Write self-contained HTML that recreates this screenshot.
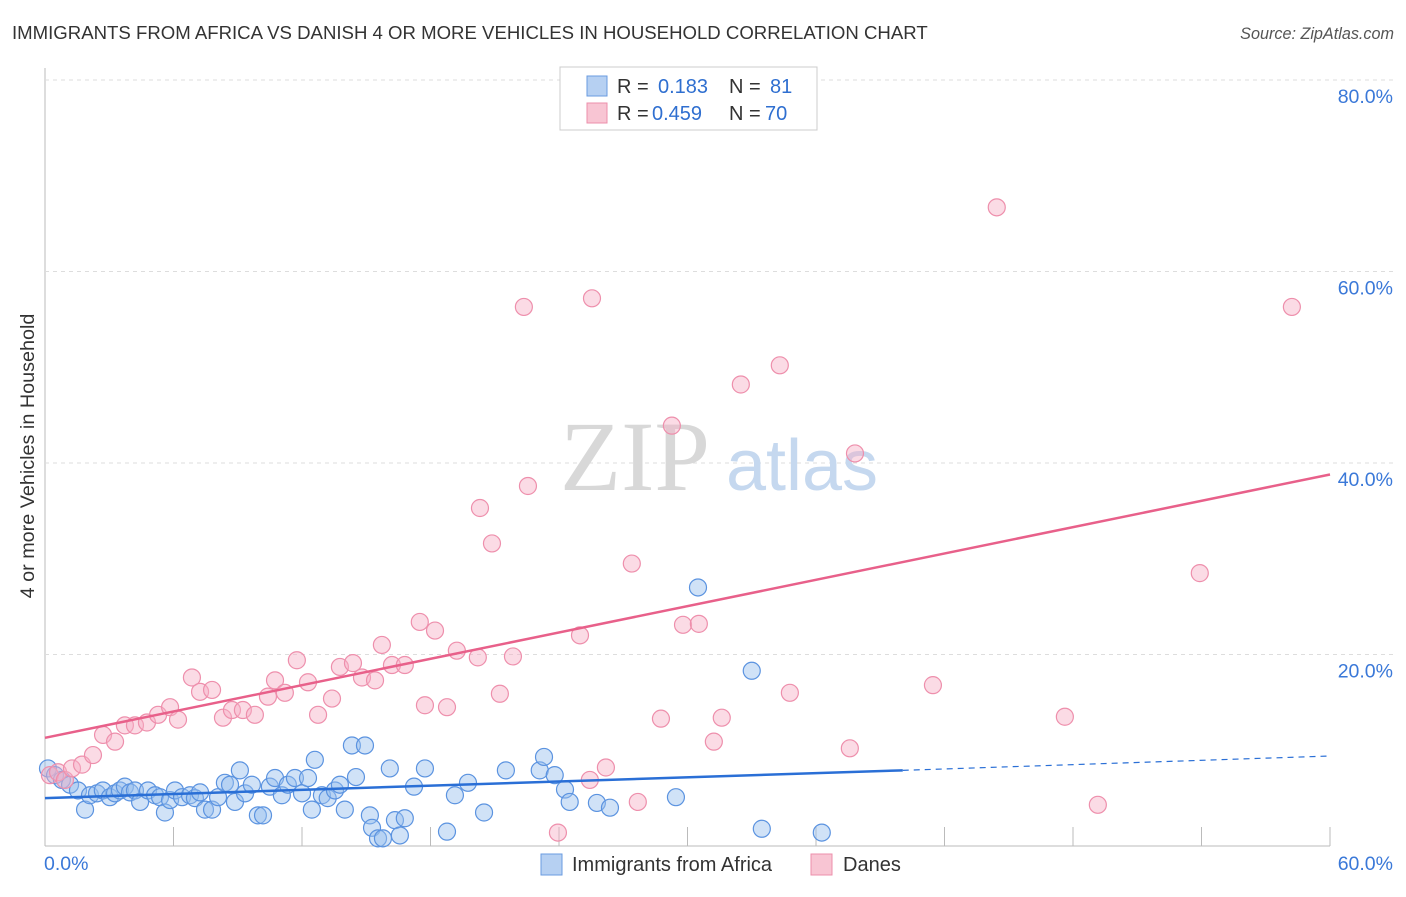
<!DOCTYPE html>
<html><head><meta charset="utf-8"><style>
body{margin:0;background:#fff;font-family:"Liberation Sans",sans-serif;}
</style></head><body>
<svg width="1406" height="892" xmlns="http://www.w3.org/2000/svg">
<text x="12" y="39" font-size="18.6" fill="#333">IMMIGRANTS FROM AFRICA VS DANISH 4 OR MORE VEHICLES IN HOUSEHOLD CORRELATION CHART</text>
<text x="1394" y="39" font-size="16.2" fill="#555" font-style="italic" text-anchor="end">Source: ZipAtlas.com</text>
<g id="grid"></g>
<text x="635" y="490" font-size="100" fill="#d8d8d8" font-family="Liberation Serif,serif" text-anchor="middle">ZIP</text>
<text x="802" y="490" font-size="72" fill="#c5d8ef" text-anchor="middle">atlas</text>
<text transform="translate(34,456) rotate(-90)" font-size="19.8" fill="#333" text-anchor="middle">4 or more Vehicles in Household</text>
<g id="marks"></g>
<g>
<rect x="560" y="67" width="257" height="63" fill="#fff" stroke="#ccc"/>
<rect x="587" y="76" width="20" height="20" fill="#b6d0f2" stroke="#6a9be0"/>
<rect x="587" y="103" width="20" height="20" fill="#f8c5d3" stroke="#ec8fab"/>
<text x="617" y="93" font-size="20" fill="#333">R = <tspan x="658" fill="#2f6fd0">0.183</tspan><tspan x="729" fill="#333">N = </tspan><tspan x="770" fill="#2f6fd0">81</tspan></text>
<text x="617" y="120" font-size="20" fill="#333">R = <tspan x="652" fill="#2f6fd0">0.459</tspan><tspan x="729" fill="#333">N = </tspan><tspan x="765" fill="#2f6fd0">70</tspan></text>
</g>
<g>
<rect x="541" y="854" width="21" height="21" fill="#b6d0f2" stroke="#6a9be0"/>
<text x="572" y="871" font-size="20" fill="#333">Immigrants from Africa</text>
<rect x="811" y="854" width="21" height="21" fill="#f8c5d3" stroke="#ec8fab"/>
<text x="843" y="871" font-size="20" fill="#333">Danes</text>
</g>
</svg>
<script>
const xTicks=[0,60];
const yTicks=[20,40,60,80];
const africaX=[0.14,0.47,0.79,1.17,1.54,1.87,2.1,2.43,2.7,3.03,3.27,3.5,3.73,3.97,4.2,4.44,4.81,5.14,5.37,5.6,5.84,6.07,6.4,6.77,7.0,7.24,7.47,7.8,8.08,8.4,8.64,8.87,9.1,9.34,9.66,9.94,10.18,10.5,10.74,11.06,11.34,11.67,12.0,12.28,12.46,12.6,12.93,13.2,13.54,13.77,14.0,14.33,14.52,14.94,15.17,15.27,15.55,15.78,16.1,16.34,16.57,16.8,17.23,17.74,18.77,19.14,19.75,20.5,21.52,23.1,23.3,23.8,24.28,24.5,25.77,26.38,29.46,30.49,33.0,33.47,36.27];
const africaY=[8.1,7.4,6.9,6.4,5.8,3.8,5.3,5.5,5.8,5.1,5.5,5.8,6.2,5.6,5.8,4.6,5.8,5.3,5.1,3.5,4.8,5.8,5.1,5.3,5.0,5.6,3.8,3.8,5.1,6.6,6.4,4.6,7.9,5.5,6.4,3.2,3.2,6.2,7.1,5.3,6.4,7.1,5.5,7.1,3.8,9.0,5.3,5.0,5.8,6.4,3.8,10.5,7.2,10.5,3.2,1.9,0.8,0.8,8.1,2.7,1.1,2.9,6.2,8.1,1.5,5.3,6.6,3.5,7.9,7.9,9.3,7.4,5.9,4.6,4.5,4.0,5.1,27.0,18.3,1.8,1.4];
const danesX=[0.23,0.61,0.93,1.26,1.73,2.24,2.71,3.27,3.73,4.2,4.76,5.28,5.84,6.21,6.86,7.24,7.8,8.31,8.73,9.24,9.8,10.41,10.74,11.2,11.76,12.28,12.75,13.4,13.77,14.38,14.8,15.41,15.73,16.2,16.8,17.5,17.74,18.21,18.77,19.23,20.21,20.31,20.87,21.24,21.85,22.36,22.55,23.95,24.98,25.54,25.44,26.19,27.4,27.68,28.76,29.27,29.79,30.53,31.23,31.6,32.49,34.31,34.78,37.58,37.82,41.46,44.44,47.62,49.16,53.92,58.22];
const danesY=[7.4,7.7,6.9,8.1,8.5,9.5,11.6,10.9,12.6,12.6,12.9,13.7,14.5,13.2,17.6,16.1,16.3,13.4,14.2,14.2,13.7,15.6,17.3,16.0,19.4,17.1,13.7,15.4,18.7,19.1,17.6,17.3,21.0,18.9,18.9,23.4,14.7,22.5,14.5,20.4,19.7,35.3,31.6,15.9,19.8,56.3,37.6,1.4,22.0,57.2,6.9,8.2,29.5,4.6,13.3,43.9,23.1,23.2,10.9,13.4,48.2,50.2,16.0,10.2,41.0,16.8,66.7,13.5,4.3,28.5,56.3];
const africaTrend=[0,5.0,40.05,7.9,60,9.4];
const danesTrend=[0,11.3,60,38.8];
const NS='http://www.w3.org/2000/svg';
const X=v=>45+v*(1330-45)/60;
const Y=v=>846-v*(846-80)/80;
function mk(tag,attrs,parent){const e=document.createElementNS(NS,tag);for(const k in attrs)e.setAttribute(k,attrs[k]);parent.appendChild(e);return e;}
const grid=document.getElementById('grid');
const marks=document.getElementById('marks');
let ax=mk('line',{x1:45,y1:68,x2:45,y2:846,stroke:'#bbb'},grid);


let bx=mk('line',{x1:45,y1:846,x2:1330,y2:846,stroke:'#bbb'},grid);


yTicks.forEach(t=>{
 const g=mk('line',{x1:45,y1:Y(t),x2:1395,y2:Y(t),stroke:'#ddd','stroke-dasharray':'4,4'},grid);
 
 
 const l=mk('text',{x:1393,y:Y(t)+23,'font-size':19.5,fill:'#3a78d8','text-anchor':'end'},grid);
 l.textContent=t.toFixed(1)+'%';
 
 
});
for(let i=1;i<=10;i++){
 const v=i*6;
 const t=mk('line',{x1:X(v),y1:827,x2:X(v),y2:846,stroke:'#bbb'},grid);
 
 
}
xTicks.forEach((t,i)=>{
 const l=mk('text',{x:i==0?44:1393,y:870,'font-size':19.5,fill:'#3a78d8','text-anchor':i==0?'start':'end'},grid);
 l.textContent=t.toFixed(1)+'%';
 
 
});
africaX.forEach((x,i)=>{
 const c=mk('circle',{cx:X(x),cy:Y(africaY[i]),r:8.5,fill:'rgba(150,190,238,0.45)',stroke:'#5b93e0','stroke-width':1.2},marks);
 
 
});
danesX.forEach((x,i)=>{
 const c=mk('circle',{cx:X(x),cy:Y(danesY[i]),r:8.5,fill:'rgba(246,176,198,0.45)',stroke:'#ee8fac','stroke-width':1.2},marks);
 
 
});
let tl=mk('line',{x1:X(danesTrend[0]),y1:Y(danesTrend[1]),x2:X(danesTrend[2]),y2:Y(danesTrend[3]),stroke:'#e8608a','stroke-width':2.5},marks);


let ta=mk('line',{x1:X(africaTrend[0]),y1:Y(africaTrend[1]),x2:X(africaTrend[2]),y2:Y(africaTrend[3]),stroke:'#2a6fd6','stroke-width':2.5},marks);


let td=mk('line',{x1:X(africaTrend[2]),y1:Y(africaTrend[3]),x2:X(africaTrend[4]),y2:Y(africaTrend[5]),stroke:'#2a6fd6','stroke-width':1.2,'stroke-dasharray':'6,5'},marks);


</script>
</body></html>
